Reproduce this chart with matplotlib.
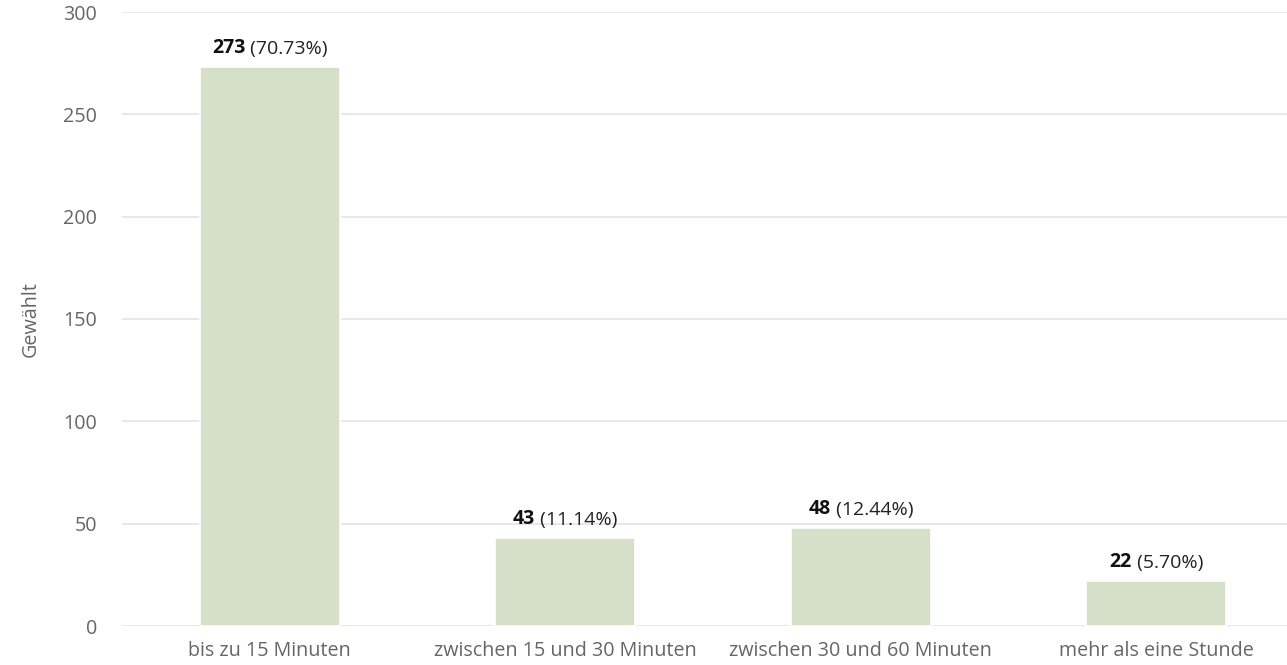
import matplotlib
matplotlib.use("Agg")
import matplotlib.pyplot as plt

categories = ["bis zu 15 Minuten", "zwischen 15 und 30 Minuten",
              "zwischen 30 und 60 Minuten", "mehr als eine Stunde"]
values = [273, 43, 48, 22]
percents = ["70.73%", "11.14%", "12.44%", "5.70%"]
yticks = [0, 50, 100, 150, 200, 250, 300]

plt.rcParams['font.family'] = ['Open Sans', 'DejaVu Sans']

W, H = 1287, 665
fig = plt.figure(figsize=(W / 100, H / 100), dpi=100)
ax = fig.add_axes([122 / W, (H - 626) / H, 1 - 122 / W, (626 - 12) / H])

x = list(range(len(categories)))
ax.bar(x, values, width=0.474, color="#d6e0c8", edgecolor="white",
       linewidth=1.2, zorder=3)

ax.set_ylim(0, 300)
ax.set_xlim(-0.5, 3.442)
ax.set_yticks(yticks)
ax.set_xticks(x)
ax.set_xticklabels(categories)
ax.grid(axis="y", color="#e8e8e8", linewidth=1.4, zorder=0)
ax.set_axisbelow(True)
for s in ax.spines.values():
    s.set_visible(False)
ax.tick_params(axis="both", length=0, labelsize=14.2, colors="#666666")
ax.tick_params(axis="x", pad=11)
ax.tick_params(axis="y", pad=18)
ax.set_ylabel("Gewählt", fontsize=14.2, color="#666666", labelpad=16)

pairs = []
for xi, v, p in zip(x, values, percents):
    t1 = ax.annotate(str(v), xy=(xi, v), xytext=(0, 6.5), textcoords="offset points",
                     ha="left", va="bottom", fontsize=14, fontweight="bold",
                     color="#111111", zorder=5)
    t2 = ax.annotate(" (" + p + ")", xy=(1, 0), xycoords=t1, ha="left", va="bottom",
                     fontsize=14, color="#222222", zorder=5)
    pairs.append((t1, t2))

fig.canvas.draw()
r = fig.canvas.get_renderer()
for t1, t2 in pairs:
    w = t1.get_window_extent(r).width + t2.get_window_extent(r).width
    t1.set_position((-w / 2 * 72 / fig.dpi, 6.5))

fig.savefig("out.png", dpi=100)
